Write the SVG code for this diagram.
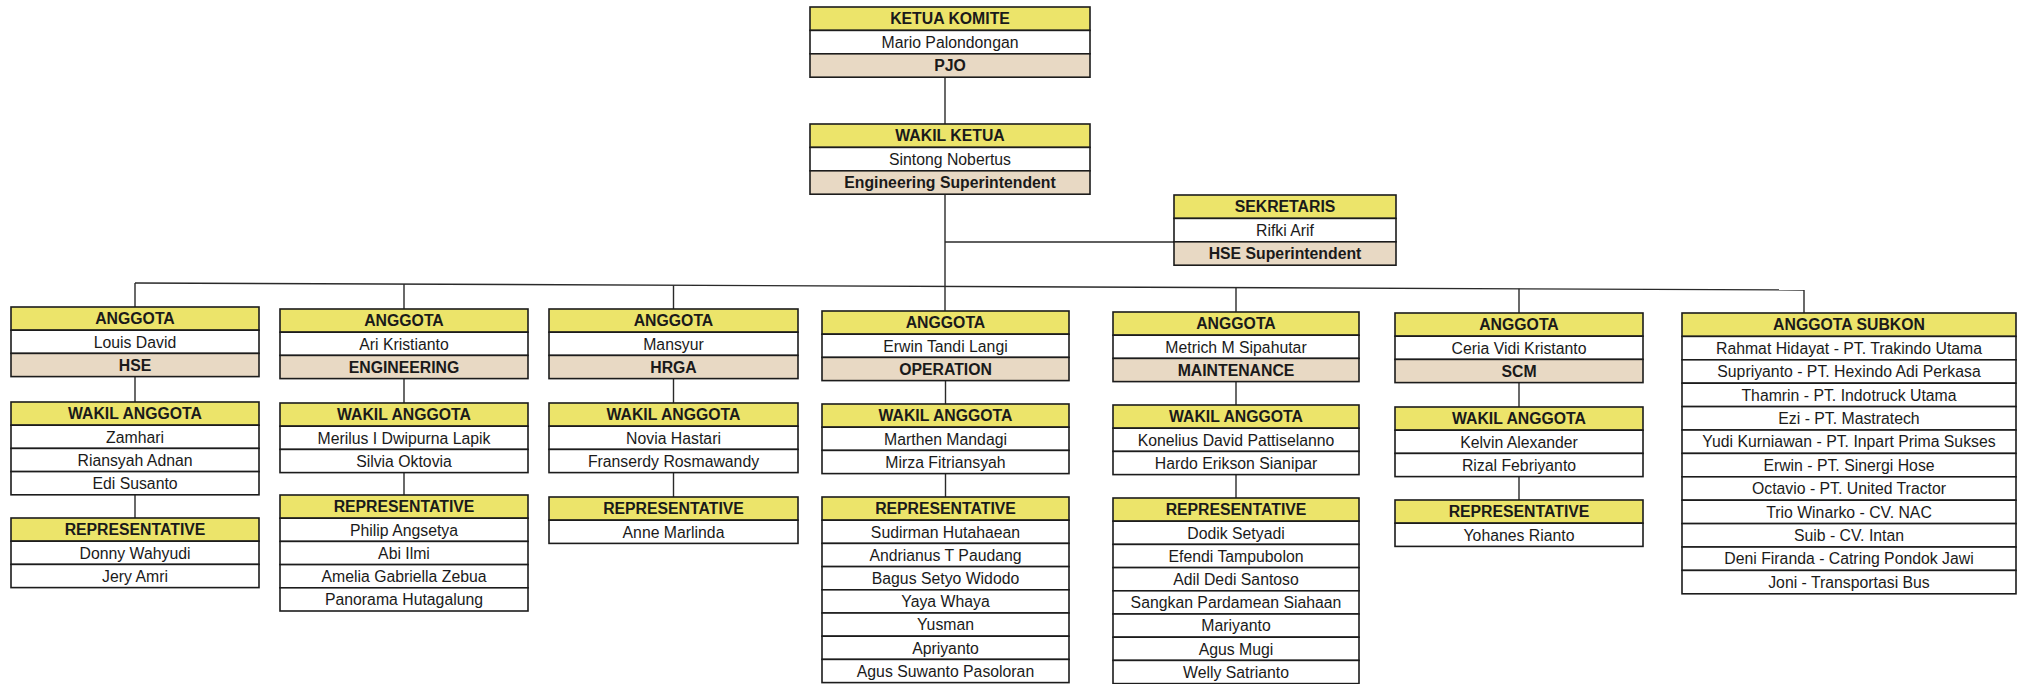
<svg xmlns="http://www.w3.org/2000/svg" width="2022" height="684" viewBox="0 0 2022 684">
<style>
.hd{fill:#ece46a;stroke:#1c1c1c;stroke-width:1.6}
.nm{fill:#ffffff;stroke:#1c1c1c;stroke-width:1.6}
.dp{fill:#e8d9c4;stroke:#1c1c1c;stroke-width:1.6}
text{font-family:"Liberation Sans",Arial,sans-serif;font-size:15.8px;fill:#1a1a1a;text-anchor:middle}
.b{font-weight:bold}
.ln{stroke:#2a2a2a;stroke-width:1.4;fill:none}
</style>
<rect x="0" y="0" width="2022" height="684" fill="#ffffff"/>
<g id="connectors">
<line class="ln" x1="945" y1="77" x2="945" y2="124"/>
<line class="ln" x1="945" y1="194" x2="945" y2="311"/>
<line class="ln" x1="945" y1="242" x2="1174" y2="242"/>
<line class="ln" x1="135" y1="283" x2="1804" y2="290"/>
<line class="ln" x1="135" y1="283" x2="135" y2="307"/>
<line class="ln" x1="404" y1="284" x2="404" y2="309"/>
<line class="ln" x1="673.5" y1="285.3" x2="673.5" y2="309"/>
<line class="ln" x1="1236" y1="287.6" x2="1236" y2="312"/>
<line class="ln" x1="1519" y1="288.8" x2="1519" y2="313"/>
<line class="ln" x1="1804" y1="290" x2="1804" y2="313"/>
<line class="ln" x1="135" y1="376.6" x2="135" y2="402"/>
<line class="ln" x1="135" y1="494.8" x2="135" y2="518"/>
<line class="ln" x1="404" y1="378.6" x2="404" y2="403"/>
<line class="ln" x1="404" y1="472.6" x2="404" y2="495"/>
<line class="ln" x1="673.5" y1="378.6" x2="673.5" y2="403"/>
<line class="ln" x1="673.5" y1="472.6" x2="673.5" y2="497"/>
<line class="ln" x1="945.5" y1="380.6" x2="945.5" y2="404"/>
<line class="ln" x1="945.5" y1="473.6" x2="945.5" y2="497"/>
<line class="ln" x1="1236" y1="381.6" x2="1236" y2="405"/>
<line class="ln" x1="1236" y1="474.6" x2="1236" y2="498"/>
<line class="ln" x1="1519" y1="382.6" x2="1519" y2="407"/>
<line class="ln" x1="1519" y1="476.6" x2="1519" y2="500"/>
</g>
<g id="ketua-komite">
<rect class="hd" x="810" y="7" width="280" height="23.4"/>
<rect class="nm" x="810" y="30.4" width="280" height="23.4"/>
<rect class="dp" x="810" y="53.8" width="280" height="23.4"/>
<text class="b" x="950" y="24.3">KETUA KOMITE</text>
<text x="950" y="47.7">Mario Palondongan</text>
<text class="b" x="950" y="71.1">PJO</text>
</g>
<g id="wakil-ketua">
<rect class="hd" x="810" y="124" width="280" height="23.4"/>
<rect class="nm" x="810" y="147.4" width="280" height="23.4"/>
<rect class="dp" x="810" y="170.8" width="280" height="23.4"/>
<text class="b" x="950" y="141.3">WAKIL KETUA</text>
<text x="950" y="164.7">Sintong Nobertus</text>
<text class="b" x="950" y="188.1">Engineering Superintendent</text>
</g>
<g id="sekretaris">
<rect class="hd" x="1174" y="195" width="222" height="23.4"/>
<rect class="nm" x="1174" y="218.4" width="222" height="23.4"/>
<rect class="dp" x="1174" y="241.8" width="222" height="23.4"/>
<text class="b" x="1285" y="212.3">SEKRETARIS</text>
<text x="1285" y="235.7">Rifki Arif</text>
<text class="b" x="1285" y="259.1">HSE Superintendent</text>
</g>
<g id="anggota-hse">
<rect class="hd" x="11" y="307" width="248" height="23.2"/>
<rect class="nm" x="11" y="330.2" width="248" height="23.2"/>
<rect class="dp" x="11" y="353.4" width="248" height="23.2"/>
<text class="b" x="135" y="324.3">ANGGOTA</text>
<text x="135" y="347.5">Louis David</text>
<text class="b" x="135" y="370.7">HSE</text>
</g>
<g id="wakil-hse">
<rect class="hd" x="11" y="402" width="248" height="23.2"/>
<rect class="nm" x="11" y="425.2" width="248" height="23.2"/>
<rect class="nm" x="11" y="448.4" width="248" height="23.2"/>
<rect class="nm" x="11" y="471.6" width="248" height="23.2"/>
<text class="b" x="135" y="419.3">WAKIL ANGGOTA</text>
<text x="135" y="442.5">Zamhari</text>
<text x="135" y="465.7">Riansyah Adnan</text>
<text x="135" y="488.9">Edi Susanto</text>
</g>
<g id="rep-hse">
<rect class="hd" x="11" y="518" width="248" height="23.2"/>
<rect class="nm" x="11" y="541.2" width="248" height="23.2"/>
<rect class="nm" x="11" y="564.4" width="248" height="23.2"/>
<text class="b" x="135" y="535.3">REPRESENTATIVE</text>
<text x="135" y="558.5">Donny Wahyudi</text>
<text x="135" y="581.7">Jery Amri</text>
</g>
<g id="anggota-eng">
<rect class="hd" x="280" y="309" width="248" height="23.2"/>
<rect class="nm" x="280" y="332.2" width="248" height="23.2"/>
<rect class="dp" x="280" y="355.4" width="248" height="23.2"/>
<text class="b" x="404" y="326.3">ANGGOTA</text>
<text x="404" y="349.5">Ari Kristianto</text>
<text class="b" x="404" y="372.7">ENGINEERING</text>
</g>
<g id="wakil-eng">
<rect class="hd" x="280" y="403" width="248" height="23.2"/>
<rect class="nm" x="280" y="426.2" width="248" height="23.2"/>
<rect class="nm" x="280" y="449.4" width="248" height="23.2"/>
<text class="b" x="404" y="420.3">WAKIL ANGGOTA</text>
<text x="404" y="443.5">Merilus I Dwipurna Lapik</text>
<text x="404" y="466.7">Silvia Oktovia</text>
</g>
<g id="rep-eng">
<rect class="hd" x="280" y="495" width="248" height="23.2"/>
<rect class="nm" x="280" y="518.2" width="248" height="23.2"/>
<rect class="nm" x="280" y="541.4" width="248" height="23.2"/>
<rect class="nm" x="280" y="564.6" width="248" height="23.2"/>
<rect class="nm" x="280" y="587.8" width="248" height="23.2"/>
<text class="b" x="404" y="512.3">REPRESENTATIVE</text>
<text x="404" y="535.5">Philip Angsetya</text>
<text x="404" y="558.7">Abi Ilmi</text>
<text x="404" y="581.9">Amelia Gabriella Zebua</text>
<text x="404" y="605.1">Panorama Hutagalung</text>
</g>
<g id="anggota-hrga">
<rect class="hd" x="549" y="309" width="249" height="23.2"/>
<rect class="nm" x="549" y="332.2" width="249" height="23.2"/>
<rect class="dp" x="549" y="355.4" width="249" height="23.2"/>
<text class="b" x="673.5" y="326.3">ANGGOTA</text>
<text x="673.5" y="349.5">Mansyur</text>
<text class="b" x="673.5" y="372.7">HRGA</text>
</g>
<g id="wakil-hrga">
<rect class="hd" x="549" y="403" width="249" height="23.2"/>
<rect class="nm" x="549" y="426.2" width="249" height="23.2"/>
<rect class="nm" x="549" y="449.4" width="249" height="23.2"/>
<text class="b" x="673.5" y="420.3">WAKIL ANGGOTA</text>
<text x="673.5" y="443.5">Novia Hastari</text>
<text x="673.5" y="466.7">Franserdy Rosmawandy</text>
</g>
<g id="rep-hrga">
<rect class="hd" x="549" y="497" width="249" height="23.2"/>
<rect class="nm" x="549" y="520.2" width="249" height="23.2"/>
<text class="b" x="673.5" y="514.3">REPRESENTATIVE</text>
<text x="673.5" y="537.5">Anne Marlinda</text>
</g>
<g id="anggota-ops">
<rect class="hd" x="822" y="311" width="247" height="23.2"/>
<rect class="nm" x="822" y="334.2" width="247" height="23.2"/>
<rect class="dp" x="822" y="357.4" width="247" height="23.2"/>
<text class="b" x="945.5" y="328.3">ANGGOTA</text>
<text x="945.5" y="351.5">Erwin Tandi Langi</text>
<text class="b" x="945.5" y="374.7">OPERATION</text>
</g>
<g id="wakil-ops">
<rect class="hd" x="822" y="404" width="247" height="23.2"/>
<rect class="nm" x="822" y="427.2" width="247" height="23.2"/>
<rect class="nm" x="822" y="450.4" width="247" height="23.2"/>
<text class="b" x="945.5" y="421.3">WAKIL ANGGOTA</text>
<text x="945.5" y="444.5">Marthen Mandagi</text>
<text x="945.5" y="467.7">Mirza Fitriansyah</text>
</g>
<g id="rep-ops">
<rect class="hd" x="822" y="497" width="247" height="23.2"/>
<rect class="nm" x="822" y="520.2" width="247" height="23.2"/>
<rect class="nm" x="822" y="543.4" width="247" height="23.2"/>
<rect class="nm" x="822" y="566.6" width="247" height="23.2"/>
<rect class="nm" x="822" y="589.8" width="247" height="23.2"/>
<rect class="nm" x="822" y="613" width="247" height="23.2"/>
<rect class="nm" x="822" y="636.2" width="247" height="23.2"/>
<rect class="nm" x="822" y="659.4" width="247" height="23.2"/>
<text class="b" x="945.5" y="514.3">REPRESENTATIVE</text>
<text x="945.5" y="537.5">Sudirman Hutahaean</text>
<text x="945.5" y="560.7">Andrianus T Paudang</text>
<text x="945.5" y="583.9">Bagus Setyo Widodo</text>
<text x="945.5" y="607.1">Yaya Whaya</text>
<text x="945.5" y="630.3">Yusman</text>
<text x="945.5" y="653.5">Apriyanto</text>
<text x="945.5" y="676.7">Agus Suwanto Pasoloran</text>
</g>
<g id="anggota-maint">
<rect class="hd" x="1113" y="312" width="246" height="23.2"/>
<rect class="nm" x="1113" y="335.2" width="246" height="23.2"/>
<rect class="dp" x="1113" y="358.4" width="246" height="23.2"/>
<text class="b" x="1236" y="329.3">ANGGOTA</text>
<text x="1236" y="352.5">Metrich M Sipahutar</text>
<text class="b" x="1236" y="375.7">MAINTENANCE</text>
</g>
<g id="wakil-maint">
<rect class="hd" x="1113" y="405" width="246" height="23.2"/>
<rect class="nm" x="1113" y="428.2" width="246" height="23.2"/>
<rect class="nm" x="1113" y="451.4" width="246" height="23.2"/>
<text class="b" x="1236" y="422.3">WAKIL ANGGOTA</text>
<text x="1236" y="445.5">Konelius David Pattiselanno</text>
<text x="1236" y="468.7">Hardo Erikson Sianipar</text>
</g>
<g id="rep-maint">
<rect class="hd" x="1113" y="498" width="246" height="23.2"/>
<rect class="nm" x="1113" y="521.2" width="246" height="23.2"/>
<rect class="nm" x="1113" y="544.4" width="246" height="23.2"/>
<rect class="nm" x="1113" y="567.6" width="246" height="23.2"/>
<rect class="nm" x="1113" y="590.8" width="246" height="23.2"/>
<rect class="nm" x="1113" y="614" width="246" height="23.2"/>
<rect class="nm" x="1113" y="637.2" width="246" height="23.2"/>
<rect class="nm" x="1113" y="660.4" width="246" height="23.2"/>
<text class="b" x="1236" y="515.3">REPRESENTATIVE</text>
<text x="1236" y="538.5">Dodik Setyadi</text>
<text x="1236" y="561.7">Efendi Tampubolon</text>
<text x="1236" y="584.9">Adil Dedi Santoso</text>
<text x="1236" y="608.1">Sangkan Pardamean Siahaan</text>
<text x="1236" y="631.3">Mariyanto</text>
<text x="1236" y="654.5">Agus Mugi</text>
<text x="1236" y="677.7">Welly Satrianto</text>
</g>
<g id="anggota-scm">
<rect class="hd" x="1395" y="313" width="248" height="23.2"/>
<rect class="nm" x="1395" y="336.2" width="248" height="23.2"/>
<rect class="dp" x="1395" y="359.4" width="248" height="23.2"/>
<text class="b" x="1519" y="330.3">ANGGOTA</text>
<text x="1519" y="353.5">Ceria Vidi Kristanto</text>
<text class="b" x="1519" y="376.7">SCM</text>
</g>
<g id="wakil-scm">
<rect class="hd" x="1395" y="407" width="248" height="23.2"/>
<rect class="nm" x="1395" y="430.2" width="248" height="23.2"/>
<rect class="nm" x="1395" y="453.4" width="248" height="23.2"/>
<text class="b" x="1519" y="424.3">WAKIL ANGGOTA</text>
<text x="1519" y="447.5">Kelvin Alexander</text>
<text x="1519" y="470.7">Rizal Febriyanto</text>
</g>
<g id="rep-scm">
<rect class="hd" x="1395" y="500" width="248" height="23.2"/>
<rect class="nm" x="1395" y="523.2" width="248" height="23.2"/>
<text class="b" x="1519" y="517.3">REPRESENTATIVE</text>
<text x="1519" y="540.5">Yohanes Rianto</text>
</g>
<g id="anggota-subkon">
<rect class="hd" x="1682" y="313" width="334" height="23.4"/>
<rect class="nm" x="1682" y="336.4" width="334" height="23.4"/>
<rect class="nm" x="1682" y="359.8" width="334" height="23.4"/>
<rect class="nm" x="1682" y="383.2" width="334" height="23.4"/>
<rect class="nm" x="1682" y="406.6" width="334" height="23.4"/>
<rect class="nm" x="1682" y="430" width="334" height="23.4"/>
<rect class="nm" x="1682" y="453.4" width="334" height="23.4"/>
<rect class="nm" x="1682" y="476.8" width="334" height="23.4"/>
<rect class="nm" x="1682" y="500.2" width="334" height="23.4"/>
<rect class="nm" x="1682" y="523.6" width="334" height="23.4"/>
<rect class="nm" x="1682" y="547" width="334" height="23.4"/>
<rect class="nm" x="1682" y="570.4" width="334" height="23.4"/>
<text class="b" x="1849" y="330.3">ANGGOTA SUBKON</text>
<text x="1849" y="353.7">Rahmat Hidayat - PT. Trakindo Utama</text>
<text x="1849" y="377.1">Supriyanto - PT. Hexindo Adi Perkasa</text>
<text x="1849" y="400.5">Thamrin - PT. Indotruck Utama</text>
<text x="1849" y="423.9">Ezi - PT. Mastratech</text>
<text x="1849" y="447.3">Yudi Kurniawan - PT. Inpart Prima Sukses</text>
<text x="1849" y="470.7">Erwin - PT. Sinergi Hose</text>
<text x="1849" y="494.1">Octavio - PT. United Tractor</text>
<text x="1849" y="517.5">Trio Winarko - CV. NAC</text>
<text x="1849" y="540.9">Suib - CV. Intan</text>
<text x="1849" y="564.3">Deni Firanda - Catring Pondok Jawi</text>
<text x="1849" y="587.7">Joni - Transportasi Bus</text>
</g>
</svg>
